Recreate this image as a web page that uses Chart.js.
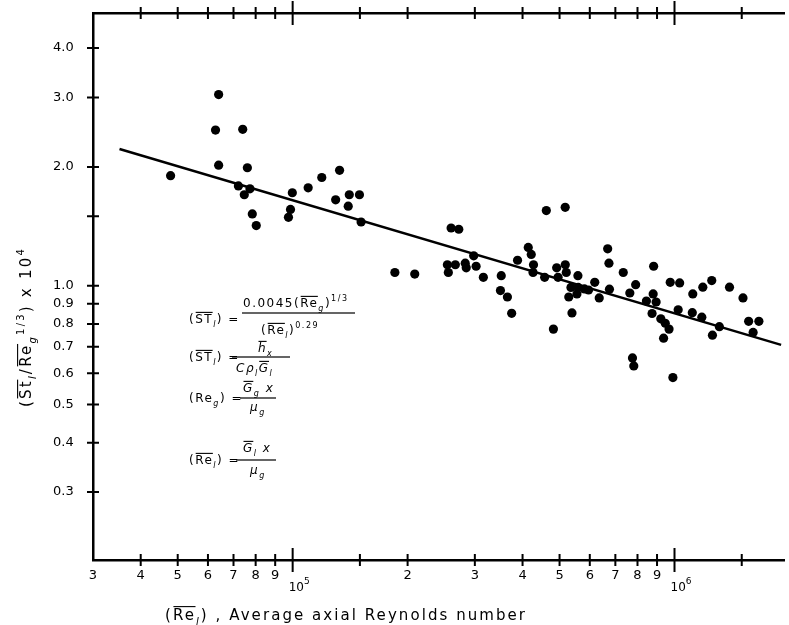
<!DOCTYPE html>
<html>
<head>
<meta charset="utf-8">
<title>Stanton number vs. average axial Reynolds number</title>
<script src="https://cdn.jsdelivr.net/npm/chart.js@4.4.1/dist/chart.umd.min.js"></script>
<style>
  html, body { margin: 0; padding: 0; background: #fff; overflow: hidden; }
  canvas { display: block; }
</style>
</head>
<body>
<canvas id="stChart" width="789" height="625"></canvas>
<script>
// average axial Reynolds number of each run
const reynoldsL = [
  47900, 64000, 62800, 74000, 64000, 76100, 72100, 77300, 74700, 78400, 80300,
  99800, 98700, 97500, 109800, 119200, 132700, 129600, 140700, 149600, 139800, 151100,
  185200, 208800, 260000, 272300, 254200, 255700, 266700, 283100, 284800, 302300, 297900, 315800,
  351800, 350100, 365100, 374600, 388100, 414000, 421500, 427300, 426100, 457000, 461600, 517300,
  491400, 517600, 495500, 520700, 558500, 535600, 559500, 528600, 555200, 580700, 538900, 481800,
  618200, 595500, 635100, 668300, 673500, 675500, 734100, 763800, 791200, 881800, 879200, 844100,
  895100, 873400, 920700, 945800, 967600, 936300, 974600,
  1031600, 1022400, 1116500, 1186200, 1251700, 1113200, 1179100, 1310700, 1257000, 1393200,
  1511400, 1563800, 1663400, 1606500,
  776200, 782300, 990400
];
// (St_l / Re_g^1/3) x 10^4 for the same runs
const stantonRatio = [
  1.90, 3.05, 2.48, 2.49, 2.02, 1.99, 1.79, 1.76, 1.70, 1.52, 1.42,
  1.72, 1.56, 1.49, 1.77, 1.88, 1.96, 1.65, 1.70, 1.70, 1.59, 1.45,
  1.08, 1.07, 1.40, 1.39, 1.13, 1.08, 1.13, 1.14, 1.11, 1.12, 1.19, 1.05,
  1.06, 0.972, 0.936, 0.851, 1.16, 1.25, 1.20, 1.13, 1.08, 1.05, 1.55, 1.58,
  1.11, 1.13, 1.05, 1.08, 1.06, 0.99, 0.99, 0.936, 0.953, 0.981, 0.853, 0.776,
  1.02, 0.975, 0.931, 1.24, 1.14, 0.980, 1.08, 0.958, 1.006, 1.12, 0.953, 0.914,
  0.909, 0.850, 0.824, 0.803, 0.776, 0.736, 1.02,
  1.016, 0.869, 0.953, 0.991, 1.03, 0.854, 0.832, 0.787, 0.749, 0.991,
  0.931, 0.812, 0.812, 0.761,
  0.656, 0.626, 0.585
];

// correlation St_l = 0.0045 Re_g^1/3 / Re_l^0.29, end points of the drawn line
const fitRe = [35200, 1902000];
const fitSt = [2.22, 0.708];

const xTickValues = [4e4, 5e4, 6e4, 7e4, 8e4, 9e4, 1e5, 1.5e5, 2e5, 3e5, 4e5, 5e5, 6e5, 7e5, 8e5, 9e5, 1e6, 1.5e6];
const xTickLabels = ['4', '5', '6', '7', '8', '9', '', '', '2', '3', '4', '5', '6', '7', '8', '9', '', ''];
const decadeValues = [1e5, 1e6];
const decadeExponents = ['5', '6'];
const yTickValues = [0.3, 0.4, 0.5, 0.6, 0.7, 0.8, 0.9, 1.0, 1.5, 2.0, 3.0, 4.0];
const yTickLabels = ['0.3', '0.4', '0.5', '0.6', '0.7', '0.8', '0.9', '1.0', '', '2.0', '3.0', '4.0'];

const X_MIN = 3e4, X_MAX = 1.94e6;
const Y_MIN = 0.2017, Y_MAX = 4.91;
const FONT = '"DejaVu Sans", sans-serif';

// text runs: sub/superscripts and overbars
const sub = (t, size) => ({ t, italic: true, size: size, dy: size * 0.45 });
const sup = (t, size) => ({ t, size: size, dy: -size * 0.75 });

function drawRuns(ctx, runs, x, y, base, dryRun) {
  let cx = x;
  for (const r of runs) {
    const size = r.size || base;
    ctx.font = (r.italic ? 'italic ' : '') + size + 'px ' + FONT;
    const w = ctx.measureText(r.t).width;
    if (!dryRun) {
      const by = y + (r.dy || 0);
      ctx.fillText(r.t, cx, by);
      if (r.bar) ctx.fillRect(cx + 0.5, by - size * 0.93, w - 1, 1.1);
    }
    cx += w;
  }
  return cx - x;
}

function fitRuns(ctx, runs, x, y, base, target) {
  ctx.letterSpacing = '0px';
  const w0 = drawRuns(ctx, runs, x, y, base, true);
  const n = runs.reduce((k, r) => k + r.t.length, 0);
  ctx.letterSpacing = ((target - w0) / n).toFixed(2) + 'px';
  drawRuns(ctx, runs, x, y, base);
  ctx.letterSpacing = '0px';
}

const yTitleRuns = [
  { t: '(' }, { t: 'St', bar: true }, sub('l', 10), { t: '/' },
  { t: 'Re', bar: true }, sub('g', 10), sup('1/3', 10), { t: ') x 10' }, sup('4', 10)
];
const xTitleRuns = [
  { t: '(' }, { t: 'Re', bar: true }, sub('l', 10), { t: ') , Average axial Reynolds number' }
];

// equation block: [runs, x, baseline]
const eqTexts = [
  [[{ t: '(' }, { t: 'ST', bar: true }, sub('l', 8), { t: ') =' }], 189, 323],
  [[{ t: '0.0045(' }, { t: 'Re', bar: true }, sub('g', 8), { t: ')' }, sup('1/3', 8)], 243, 307],
  [[{ t: '(' }, { t: 'Re', bar: true }, sub('l', 8), { t: ')' }, sup('0.29', 8)], 261, 334],
  [[{ t: '(' }, { t: 'ST', bar: true }, sub('l', 8), { t: ') =' }], 189, 361],
  [[{ t: 'h', italic: true, bar: true }, sub('x', 8)], 258, 352],
  [[{ t: 'Cρ', italic: true }, sub('l', 8), { t: 'G', italic: true, bar: true }, sub('l', 8)], 236, 372],
  [[{ t: '(Re' }, sub('g', 8), { t: ') =' }], 189, 402],
  [[{ t: 'G', italic: true, bar: true }, sub('g', 8), { t: ' x', italic: true }], 243, 392],
  [[{ t: 'μ', italic: true }, sub('g', 8)], 250, 411],
  [[{ t: '(' }, { t: 'Re', bar: true }, sub('l', 8), { t: ') =' }], 189, 464],
  [[{ t: 'G', italic: true, bar: true }, sub('l', 8), { t: ' x', italic: true }], 243, 452],
  [[{ t: 'μ', italic: true }, sub('g', 8)], 250, 474]
];
// fraction bars: [x0, x1, y]
const eqBars = [[242, 355, 313], [232, 290, 357], [240, 276, 398], [236, 276, 460]];

// "+" shaped ticks crossing the axes, plus the lettering
const crossTicks = {
  id: 'crossTicks',
  afterDraw(chart) {
    const { ctx, chartArea: a, scales } = chart;
    ctx.save();
    ctx.strokeStyle = '#000';
    ctx.fillStyle = '#000';
    ctx.lineWidth = 2;
    ctx.beginPath();
    for (const v of xTickValues) {
      const px = scales.x.getPixelForValue(v);
      const len = decadeValues.includes(v) ? 12 : 6;
      ctx.moveTo(px, a.bottom - len); ctx.lineTo(px, a.bottom + len);
      ctx.moveTo(px, a.top - len); ctx.lineTo(px, a.top + len);
    }
    for (const v of yTickValues) {
      const py = scales.y.getPixelForValue(v);
      ctx.moveTo(a.left - 6, py); ctx.lineTo(a.left + 6, py);
    }
    ctx.stroke();

    ctx.textBaseline = 'alphabetic';
    decadeValues.forEach((v, i) => {
      const px = scales.x.getPixelForValue(v) - 4;
      drawRuns(ctx, [{ t: '10' }, sup(decadeExponents[i], 9)], px, 591, 12);
    });

    // axis titles
    fitRuns(ctx, xTitleRuns, 165, 620, 15, 362);
    ctx.save();
    ctx.translate(31, 327);
    ctx.rotate(-Math.PI / 2);
    fitRuns(ctx, yTitleRuns, -80, 0, 15, 160);
    ctx.restore();

    // correlation and definitions
    ctx.letterSpacing = '1.5px';
    for (const [runs, x, y] of eqTexts) drawRuns(ctx, runs, x, y, 12);
    ctx.letterSpacing = '0px';
    for (const [x0, x1, y] of eqBars) ctx.fillRect(x0, y - 0.6, x1 - x0, 1.2);
    ctx.restore();
  }
};

const axisBorder = { display: true, color: '#000', width: 2.5 };
const noGrid = { display: false, drawTicks: false, tickLength: 0 };

new Chart(document.getElementById('stChart'), {
  type: 'scatter',
  data: {
    datasets: [
      {
        data: reynoldsL.map((x, i) => ({ x, y: stantonRatio[i] })),
        backgroundColor: '#000',
        borderWidth: 0,
        pointRadius: 4.6
      },
      {
        data: fitRe.map((x, i) => ({ x, y: fitSt[i] })),
        showLine: true,
        borderColor: '#000',
        borderWidth: 2.5,
        pointRadius: 0
      }
    ]
  },
  options: {
    responsive: false,
    animation: false,
    layout: { padding: { left: 53, top: 0, right: 0, bottom: 0 } },
    plugins: {
      legend: { display: false },
      tooltip: { enabled: false }
    },
    scales: {
      x: {
        type: 'logarithmic',
        position: 'bottom',
        min: X_MIN,
        max: X_MAX,
        afterBuildTicks: s => { s.ticks = [X_MIN, ...xTickValues].map(v => ({ value: v })); },
        afterFit: s => { s.height = 65; },
        grid: noGrid,
        border: axisBorder,
        ticks: {
          autoSkip: false,
          maxRotation: 0,
          padding: 8,
          color: '#000',
          font: { family: FONT, size: 13 },
          callback: v => v === X_MIN ? '3' : xTickLabels[xTickValues.indexOf(v)]
        }
      },
      x2: {
        type: 'logarithmic',
        position: 'top',
        min: X_MIN,
        max: X_MAX,
        afterFit: s => { s.height = 13; },
        grid: noGrid,
        border: axisBorder,
        ticks: { display: false }
      },
      y: {
        type: 'logarithmic',
        position: 'left',
        min: Y_MIN,
        max: Y_MAX,
        afterBuildTicks: s => { s.ticks = yTickValues.map(v => ({ value: v })); },
        afterFit: s => { s.width = 40; },
        grid: noGrid,
        border: axisBorder,
        ticks: {
          autoSkip: false,
          padding: 2,
          crossAlign: 'far',
          color: '#000',
          font: { family: FONT, size: 13 },
          callback: v => yTickLabels[yTickValues.indexOf(v)]
        }
      }
    }
  },
  plugins: [crossTicks]
});
</script>
</body>
</html>
